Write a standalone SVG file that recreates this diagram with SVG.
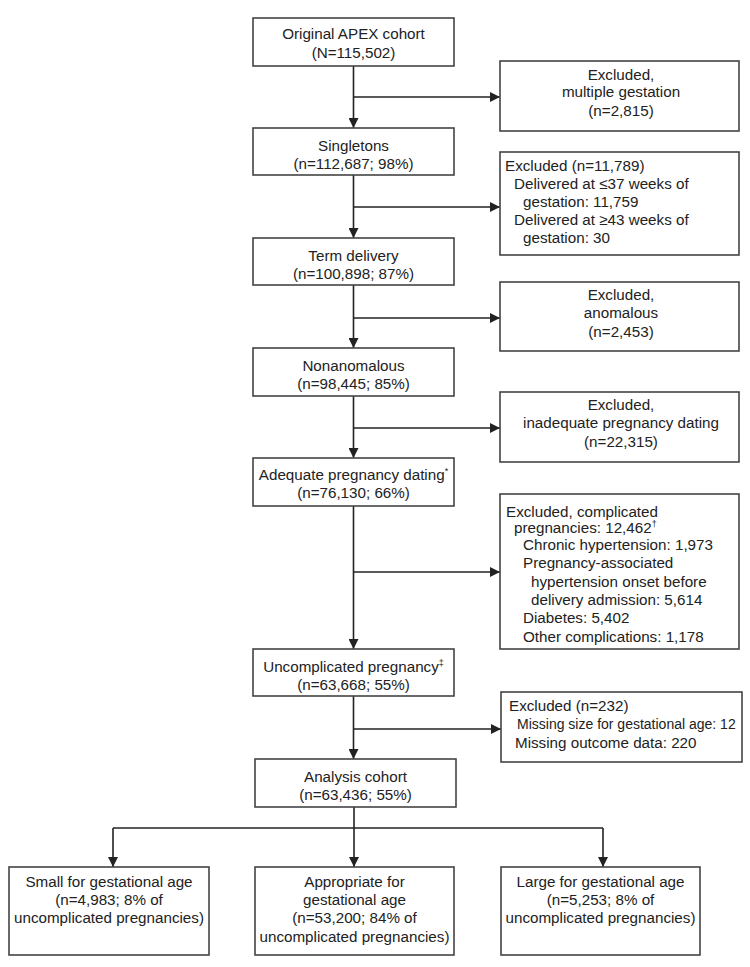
<svg xmlns="http://www.w3.org/2000/svg" width="750" height="967" viewBox="0 0 750 967">
<defs>
<marker id="ah" viewBox="0 0 10 10" refX="10" refY="5" markerWidth="10" markerHeight="10" markerUnits="userSpaceOnUse" orient="auto">
<path d="M0,0 L10,5 L0,10 Z" fill="#222"/>
</marker>
<style>
.box{fill:#fff;stroke:#444;stroke-width:1.6}
text{font-family:"Liberation Sans",Arial,sans-serif;font-size:15.2px;fill:#222}
.c{text-anchor:middle}
.ln{fill:none;stroke:#222;stroke-width:1.6}
.ar{fill:none;stroke:#222;stroke-width:1.6;marker-end:url(#ah)}
.sup{font-size:9px}
.sm{font-size:14px}
</style>
</defs>
<rect width="750" height="967" fill="#fff"/>

<g id="connectors">
<line class="ar" x1="353.5" y1="66" x2="353.5" y2="128"/>
<line class="ar" x1="353.5" y1="97" x2="500" y2="97"/>
<line class="ar" x1="353.5" y1="175" x2="353.5" y2="238"/>
<line class="ar" x1="353.5" y1="207" x2="500" y2="207"/>
<line class="ar" x1="353.5" y1="285" x2="353.5" y2="348"/>
<line class="ar" x1="353.5" y1="318" x2="500" y2="318"/>
<line class="ar" x1="353.5" y1="396" x2="353.5" y2="458"/>
<line class="ar" x1="353.5" y1="428" x2="500" y2="428"/>
<line class="ar" x1="353.5" y1="506" x2="353.5" y2="649"/>
<line class="ar" x1="353.5" y1="572" x2="500" y2="572"/>
<line class="ar" x1="353.5" y1="696" x2="353.5" y2="759"/>
<line class="ar" x1="353.5" y1="729" x2="501" y2="729"/>
<line class="ln" x1="354" y1="807" x2="354" y2="828"/>
<line class="ln" x1="113" y1="828" x2="603" y2="828"/>
<line class="ar" x1="113" y1="828" x2="113" y2="867"/>
<line class="ar" x1="354" y1="828" x2="354" y2="867"/>
<line class="ar" x1="603" y1="828" x2="603" y2="867"/>
</g>

<g id="original">
<rect class="box" x="253" y="18" width="201" height="48"/>
<text class="c" x="353.5" y="39">Original APEX cohort</text>
<text class="c" x="353.5" y="58">(N=115,502)</text>
</g>
<g id="excl-multiple">
<rect class="box" x="500" y="61" width="239" height="70"/>
<text class="c" x="621" y="80">Excluded,</text>
<text class="c" x="621" y="97">multiple gestation</text>
<text class="c" x="621" y="116">(n=2,815)</text>
</g>
<g id="singletons">
<rect class="box" x="253" y="128" width="201" height="47"/>
<text class="c" x="353.5" y="151">Singletons</text>
<text class="c" x="353.5" y="169">(n=112,687; 98%)</text>
</g>
<g id="excl-term">
<rect class="box" x="500" y="152" width="239" height="103"/>
<text x="505" y="171">Excluded (n=11,789)</text>
<text x="514" y="189">Delivered at ≤37 weeks of</text>
<text x="523" y="207">gestation: 11,759</text>
<text x="514" y="225">Delivered at ≥43 weeks of</text>
<text x="523" y="243">gestation: 30</text>
</g>
<g id="term">
<rect class="box" x="253" y="238" width="201" height="47"/>
<text class="c" x="353.5" y="261">Term delivery</text>
<text class="c" x="353.5" y="279">(n=100,898; 87%)</text>
</g>
<g id="excl-anomalous">
<rect class="box" x="500" y="282" width="239" height="69"/>
<text class="c" x="621" y="300">Excluded,</text>
<text class="c" x="621" y="318">anomalous</text>
<text class="c" x="621" y="337">(n=2,453)</text>
</g>
<g id="nonanomalous">
<rect class="box" x="253" y="348" width="201" height="48"/>
<text class="c" x="353.5" y="371">Nonanomalous</text>
<text class="c" x="353.5" y="389">(n=98,445; 85%)</text>
</g>
<g id="excl-dating">
<rect class="box" x="500" y="392" width="239" height="70"/>
<text class="c" x="621" y="410">Excluded,</text>
<text class="c" x="621" y="428">inadequate pregnancy dating</text>
<text class="c" x="621" y="447">(n=22,315)</text>
</g>
<g id="adequate">
<rect class="box" x="253" y="458" width="201" height="48"/>
<text class="c" x="353.5" y="480">Adequate pregnancy dating<tspan class="sup" dy="-6">*</tspan></text>
<text class="c" x="353.5" y="498">(n=76,130; 66%)</text>
</g>
<g id="excl-complicated">
<rect class="box" x="500" y="494" width="239" height="155"/>
<text x="506" y="517">Excluded, complicated</text>
<text x="514" y="533">pregnancies: 12,462<tspan class="sup" dy="-6">†</tspan></text>
<text x="523" y="550">Chronic hypertension: 1,973</text>
<text x="523" y="568">Pregnancy-associated</text>
<text x="531" y="587">hypertension onset before</text>
<text x="531" y="605">delivery admission: 5,614</text>
<text x="523" y="623">Diabetes: 5,402</text>
<text x="523" y="642">Other complications: 1,178</text>
</g>
<g id="uncomplicated">
<rect class="box" x="253" y="649" width="201" height="47"/>
<text class="c" x="353.5" y="672">Uncomplicated pregnancy<tspan class="sup" dy="-6">‡</tspan></text>
<text class="c" x="353.5" y="690">(n=63,668; 55%)</text>
</g>
<g id="excl-missing">
<rect class="box" x="501" y="692" width="241" height="70"/>
<text x="509" y="711">Excluded (n=232)</text>
<text class="sm" x="517" y="729">Missing size for gestational age: 12</text>
<text x="515" y="748">Missing outcome data: 220</text>
</g>
<g id="analysis">
<rect class="box" x="255" y="759" width="201" height="48"/>
<text class="c" x="355.5" y="782">Analysis cohort</text>
<text class="c" x="355.5" y="800">(n=63,436; 55%)</text>
</g>
<g id="small">
<rect class="box" x="9" y="867" width="200" height="88"/>
<text class="c" x="109" y="887">Small for gestational age</text>
<text class="c" x="109" y="905">(n=4,983; 8% of</text>
<text class="c" x="109" y="923">uncomplicated pregnancies)</text>
</g>
<g id="appropriate">
<rect class="box" x="255" y="867" width="199" height="88"/>
<text class="c" x="354.5" y="887">Appropriate for</text>
<text class="c" x="354.5" y="905">gestational age</text>
<text class="c" x="354.5" y="923">(n=53,200; 84% of</text>
<text class="c" x="354.5" y="942">uncomplicated pregnancies)</text>
</g>
<g id="large">
<rect class="box" x="501" y="867" width="199" height="88"/>
<text class="c" x="600.5" y="887">Large for gestational age</text>
<text class="c" x="600.5" y="905">(n=5,253; 8% of</text>
<text class="c" x="600.5" y="923">uncomplicated pregnancies)</text>
</g>
</svg>
